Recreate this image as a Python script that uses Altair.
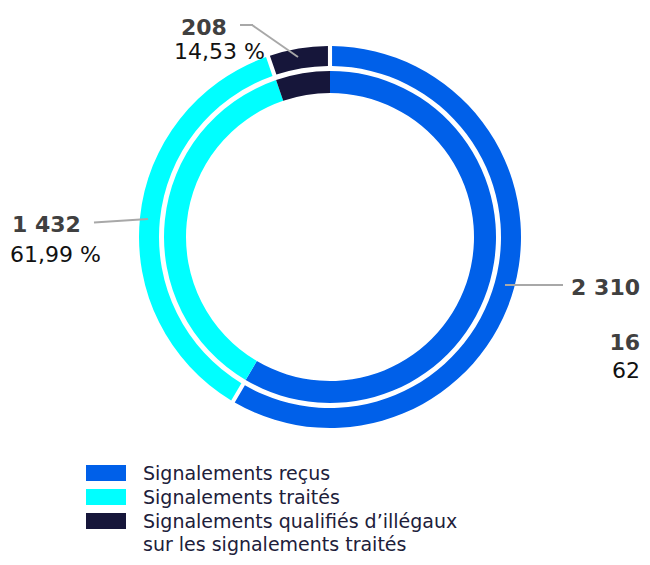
import altair as alt
import pandas as pd

# ---- data ----
categories = [
    "Signalements reçus",
    "Signalements traités",
    "Signalements qualifiés d’illégaux sur les signalements traités",
]
values = [2310, 1432, 208]
colors = ["#0060E9", "#00FFFF", "#16163A"]
value_labels = ["2 310", "1 432", "208"]
pct_labels = ["", "61,99 %", "14,53 %"]
extra_bold = ["16"]
extra_normal = ["62"]
legend_lines = [
    ["Signalements reçus"],
    ["Signalements traités"],
    ["Signalements qualifiés d’illégaux", "sur les signalements traités"],
]

# ---- layout (screenshot pixel coords, page margin 8) ----
W, H = 634, 549
OFF = 8
def px(v):
    return v - OFF

FONT = "DejaVu Sans"
cx, cy = px(330), px(237)

df = pd.DataFrame({"cat": categories, "value": values, "order": [0, 1, 2]})
color_scale = alt.Scale(domain=categories, range=colors)
sx = alt.Scale(domain=[0, W], range=[0, W])
sy = alt.Scale(domain=[0, H], range=[0, H])

base = alt.Chart(df).encode(
    theta=alt.Theta("value:Q", stack=True),
    color=alt.Color("cat:N", scale=color_scale, legend=None),
    order=alt.Order("order:Q"),
    x=alt.value(cx),
    y=alt.value(cy),
)
outer = base.mark_arc(radius=191, radius2=171, padAngle=0.016)
inner = base.mark_arc(radius=166, radius2=144)

# leader lines
segs = pd.DataFrame({
    "x1": [px(240), px(252), px(94), px(505)],
    "y1": [px(25), px(25), px(222.5), px(285)],
    "x2": [px(253), px(298), px(148), px(563)],
    "y2": [px(25), px(57), px(219), px(285)],
})
leaders = alt.Chart(segs).mark_rule(color="#a8a8a8", strokeWidth=2).encode(
    x=alt.X("x1:Q", scale=sx, axis=None),
    x2="x2:Q",
    y=alt.Y("y1:Q", scale=sy, axis=None),
    y2="y2:Q",
)

def label(text, x, y, align, bold, size=22):
    return alt.Chart(pd.DataFrame({"t": [text]})).mark_text(
        align=align,
        baseline="alphabetic",
        font=FONT,
        fontSize=size,
        fontWeight="bold" if bold else "normal",
        color="#404040" if bold else "#111111",
    ).encode(text="t:N", x=alt.value(px(x)), y=alt.value(px(y)))

labels = [
    label(value_labels[2], 181, 35, "left", True),
    label(pct_labels[2], 174, 59, "left", False),
    label(value_labels[1], 12, 232, "left", True),
    label(pct_labels[1], 10, 262, "left", False),
    label(value_labels[0], 640, 295, "right", True),
    label(extra_bold[0], 640, 350, "right", True),
    label(extra_normal[0], 640, 378, "right", False),
]

# legend
leg = pd.DataFrame({
    "cat": categories,
    "y0": [px(465), px(489), px(513)],
    "y1": [px(481), px(505), px(529)],
})
leg_rects = alt.Chart(leg).mark_rect().encode(
    x=alt.value(px(86)),
    x2=alt.value(px(126)),
    y=alt.Y("y0:Q", scale=sy, axis=None),
    y2="y1:Q",
    color=alt.Color("cat:N", scale=color_scale, legend=None),
)
lines = [l for group in legend_lines for l in group]
leg_txt_df = pd.DataFrame({
    "t": lines,
    "y": [px(480), px(504), px(528), px(551)],
})
leg_text = alt.Chart(leg_txt_df).mark_text(
    align="left", baseline="alphabetic", font=FONT, fontSize=19, color="#20203a"
).encode(
    text="t:N",
    x=alt.value(px(143)),
    y=alt.Y("y:Q", scale=sy, axis=None),
)

chart = alt.layer(outer, inner, leaders, *labels, leg_rects, leg_text).properties(
    width=W, height=H, padding=0, autosize=alt.AutoSizeParams(type="none")
).configure_view(stroke=None).resolve_scale(theta="shared")

chart.save("out.html", embed_options={"renderer": "svg", "actions": False})
